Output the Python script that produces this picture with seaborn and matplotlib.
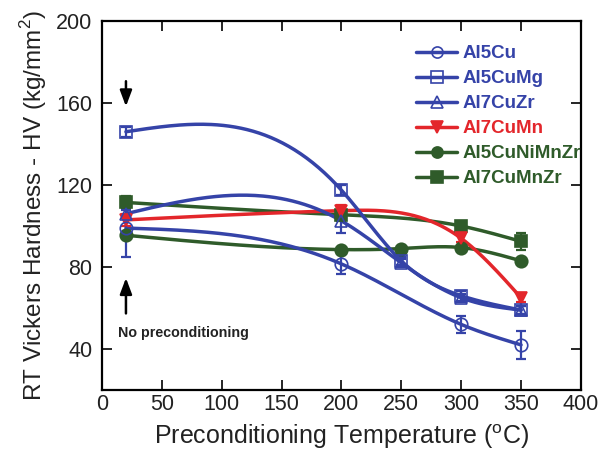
import numpy as np
import pandas as pd
import matplotlib
matplotlib.use("Agg")
import matplotlib.pyplot as plt
import seaborn as sns
from matplotlib.lines import Line2D

# ---- data ----
series_names = ["Al5Cu", "Al5CuMg", "Al7CuZr", "Al7CuMn", "Al5CuNiMnZr", "Al7CuMnZr"]

al5cu_x = [20, 200, 300, 350]
al5cu_y = [99, 81.5, 52, 42]
al5cu_err = [14, 5, 4, 7]

al5cumg_x = [20, 200, 250, 300, 350]
al5cumg_y = [146, 117.5, 83, 66, 59]
al5cumg_err = [2.5, 2.5, 2, 2.5, 2]

al7cuzr_x = [20, 200, 250, 300, 350]
al7cuzr_y = [106, 102.5, 82, 65, 59]
al7cuzr_err = [2, 6, 2, 2, 2]

al7cumn_x = [20, 200, 300, 350]
al7cumn_y = [103, 107.5, 94, 65]
al7cumn_err = [3, 3, 2, 2]

al5cunimnzr_x = [20, 200, 250, 300, 350]
al5cunimnzr_y = [95.5, 88.5, 89, 89.5, 83]
al5cunimnzr_err = [1, 1, 1, 1, 1]

al7cumnzr_x = [20, 200, 300, 350]
al7cumnzr_y = [111.5, 105.5, 100, 92.5]
al7cumnzr_err = [3, 3, 2, 4]

x_ticks = [0, 50, 100, 150, 200, 250, 300, 350, 400]
y_ticks = [40, 80, 120, 160, 200]

BLUE = "#3543a8"
RED = "#e3262b"
GREEN = "#2f5b2a"

styles = {
    "Al5Cu": dict(color=BLUE, marker="o", mfc="none"),
    "Al5CuMg": dict(color=BLUE, marker="s", mfc="none"),
    "Al7CuZr": dict(color=BLUE, marker="^", mfc="none"),
    "Al7CuMn": dict(color=RED, marker="v", mfc=RED),
    "Al5CuNiMnZr": dict(color=GREEN, marker="o", mfc=GREEN),
    "Al7CuMnZr": dict(color=GREEN, marker="s", mfc=GREEN),
}
data = {
    "Al5Cu": (al5cu_x, al5cu_y, al5cu_err),
    "Al5CuMg": (al5cumg_x, al5cumg_y, al5cumg_err),
    "Al7CuZr": (al7cuzr_x, al7cuzr_y, al7cuzr_err),
    "Al7CuMn": (al7cumn_x, al7cumn_y, al7cumn_err),
    "Al5CuNiMnZr": (al5cunimnzr_x, al5cunimnzr_y, al5cunimnzr_err),
    "Al7CuMnZr": (al7cumnzr_x, al7cumnzr_y, al7cumnzr_err),
}


def natural_spline(x, y, n=200):
    """Smooth curve through the data points (drawing style only)."""
    x = np.asarray(x, float)
    y = np.asarray(y, float)
    m = len(x)
    h = np.diff(x)
    A = np.zeros((m, m))
    b = np.zeros(m)
    A[0, 0] = 1
    A[-1, -1] = 1
    for i in range(1, m - 1):
        A[i, i - 1] = h[i - 1]
        A[i, i] = 2 * (h[i - 1] + h[i])
        A[i, i + 1] = h[i]
        b[i] = 6 * ((y[i + 1] - y[i]) / h[i] - (y[i] - y[i - 1]) / h[i - 1])
    M = np.linalg.solve(A, b)
    xs = np.linspace(x[0], x[-1], n)
    ys = np.empty_like(xs)
    for k, xv in enumerate(xs):
        i = min(np.searchsorted(x, xv, side="right") - 1, m - 2)
        i = max(i, 0)
        t1 = x[i + 1] - xv
        t0 = xv - x[i]
        ys[k] = (M[i] * t1**3 + M[i + 1] * t0**3) / (6 * h[i]) \
            + (y[i] / h[i] - M[i] * h[i] / 6) * t1 \
            + (y[i + 1] / h[i] - M[i + 1] * h[i] / 6) * t0
    return xs, ys


sns.set_theme(style="ticks")
plt.rcParams["font.family"] = ["Liberation Sans", "DejaVu Sans"]

fig = plt.figure(figsize=(6.16, 4.54), dpi=100)
ax = fig.add_axes([0.1656, 0.141, 0.7774, 0.8126])

draw_order = ["Al5CuNiMnZr", "Al7CuMnZr", "Al7CuMn", "Al5Cu", "Al7CuZr", "Al5CuMg"]
for name in draw_order:
    x, y, e = data[name]
    st = styles[name]
    xs, ys = natural_spline(x, y)
    curve = pd.DataFrame({"x": xs, "y": ys})
    sns.lineplot(data=curve, x="x", y="y", ax=ax, color=st["color"], lw=2.5,
                 sort=False, estimator=None, zorder=2)
    ax.errorbar(x, y, yerr=e, fmt="none", ecolor=st["color"], elinewidth=1.6,
                capsize=3.5, capthick=1.6, zorder=3)
    ax.plot(x, y, ls="none", marker=st["marker"], ms=9, mfc=st["mfc"],
            mec=st["color"], mew=1.2, zorder=4)

ax.set_xlim(0, 400)
ax.set_ylim(20, 200)
ax.set_xticks(x_ticks)
ax.set_yticks(y_ticks)
ax.tick_params(direction="in", top=True, right=True, length=7, width=1.2,
               labelsize=15.5, colors="black", labelcolor="#222222")
ax.tick_params(axis="x", labeltop=False, pad=3)
ax.tick_params(axis="y", labelright=False, pad=7)
for sp in ax.spines.values():
    sp.set_visible(True)
    sp.set_linewidth(1.6)
    sp.set_color("black")

ax.set_xlabel("Preconditioning Temperature ($^\\mathregular{o}$C)", fontsize=18,
              labelpad=5, color="#222222")
ax.set_ylabel("RT Vickers Hardness - HV (kg/mm$^\\mathregular{2}$)", fontsize=17.5,
              labelpad=5, color="#222222")

# annotations
ax.annotate("", xy=(20, 157), xytext=(20, 172),
            arrowprops=dict(arrowstyle="-|>,head_width=0.3,head_length=0.8", color="black", lw=1.8))
ax.annotate("", xy=(20, 76), xytext=(20, 56),
            arrowprops=dict(arrowstyle="-|>,head_width=0.3,head_length=0.8", color="black", lw=1.8))
ax.text(13, 48, "No preconditioning", fontsize=10.3, fontweight="bold", color="#222222",
        ha="left", va="center")

handles = []
for name in series_names:
    st = styles[name]
    handles.append(Line2D([0], [0], color=st["color"], lw=2.5, marker=st["marker"],
                          ms=8, mfc=st["mfc"], mec=st["color"], mew=1.2))
leg = ax.legend(handles, series_names, loc="upper left", bbox_to_anchor=(0.64, 0.955),
                frameon=False, handlelength=2.2, handletextpad=0.3, labelspacing=0.42,
                borderaxespad=0, prop=dict(weight="bold", size=13.5))
for txt, name in zip(leg.get_texts(), series_names):
    txt.set_color(styles[name]["color"])

fig.savefig("out.png", dpi=100)
